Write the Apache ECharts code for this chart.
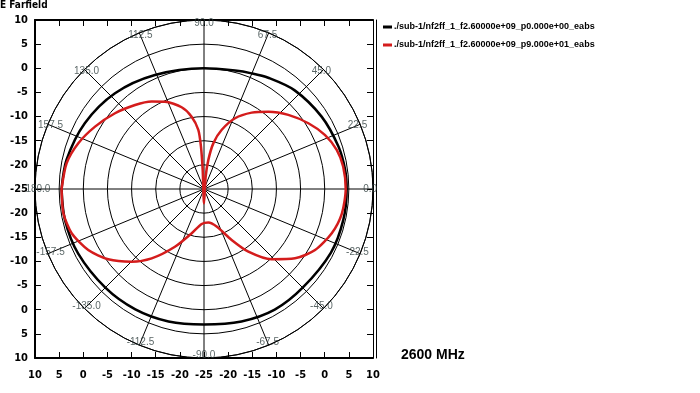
<!DOCTYPE html>
<html>
<head>
<meta charset="utf-8">
<script src="https://cdn.jsdelivr.net/npm/echarts@6/dist/echarts.min.js"></script>
<style>
html,body{margin:0;padding:0;background:#fff;}
#c{width:700px;height:393px;}
</style>
</head>
<body>
<div id="c"></div>
<script>
// ---- data ----
const seriesNames = [
  './sub-1/nf2ff_1_f2.60000e+09_p0.000e+00_eabs',
  './sub-1/nf2ff_1_f2.60000e+09_p9.000e+01_eabs'
];
// black trace (phi = 0): angle (deg), value (dB)
const blackAngles = [-180, -167.5, -152.9, -135, -119.7, -105, -90, -74.2, -59.6, -45, -26.7, -12.5, 0, 7.7, 17.5, 31.6, 47.4, 60, 67.6, 75.3, 90, 113.3, 132.9, 151.1, 168, 180];
const blackValues = [4.5, 4.5, 4.3, 3.9, 3.7, 3.4, 3.05, 3.5, 3.95, 3.9, 4.4, 4.55, 4.55, 4.5, 4.2, 3.6, 2.75, 1.6, 0.9, 0.35, 0.0, 0.7, 2.07, 3.2, 4.1, 4.5];
// red trace (phi = 90)
const redAngles = [-180, -170.2, -161.5, -152.2, -143.7, -134.9, -127, -116.7, -105.5, -93.8, -82.6, -71.4, -61.5, -54.7, -46.1, -37.3, -28.8, -19.1, -10.1, 0, 9.1, 16.4, 24, 32.2, 41.3, 50.2, 58, 66.3, 73.3, 78.4, 81.5, 82.3, 90, 94, 94.1, 95.5, 99.7, 105.3, 114.1, 120.9, 129.4, 139.6, 150.2, 160, 169.4, 180];
const redValues = [4.5, 4.55, 3.9, 2.1, -0.4, -3.75, -7.0, -11.6, -15.5, -17.75, -18.0, -16.8, -13.0, -9.1, -4.8, -1.3, 1.25, 3.0, 4.0, 4.35, 4.2, 3.65, 2.45, 0.55, -1.75, -4.15, -6.35, -9.0, -12.2, -15.3, -18.9, -22.4, -28, -21.1, -16.2, -12.7, -9.8, -7.45, -5.2, -3.9, -2.5, -0.8, 1.0, 2.7, 3.95, 4.5];
// angle tick labels
const angleLabelAngles = [90, 67.5, 45, 22.5, 0, -22.5, -45, -67.5, -90, -112.5, -135, -157.5, 180, 157.5, 135, 112.5];
const angleLabelTexts = ['90.0', '67.5', '45.0', '22.5', '0.0', '-22.5', '-45.0', '-67.5', '-90.0', '-112.5', '-135.0', '-157.5', '180.0', '157.5', '135.0', '112.5'];
// radial scale
const radiusMin = -25, radiusMax = 10, radiusStep = 5;
// box tick labels (both axes, from one edge through centre to the other)
const boxTickLabels = ['10', '5', '0', '-5', '-10', '-15', '-20', '-25', '-20', '-15', '-10', '-5', '0', '5', '10'];
const titleText = 'E Farfield';
const freqText = '2600 MHz';

// ---- chart ----
const chart = echarts.init(document.getElementById('c'), null, {renderer: 'canvas'});
const span = (radiusMax - radiusMin);
const boxFont = "'Liberation Sans Narrow','DejaVu Sans Condensed','Arial Narrow',sans-serif";
const plainFont = "'Liberation Sans', Arial, sans-serif";
function boxLabel(v) {
  const idx = Math.round((v + span) / radiusStep);
  return boxTickLabels[idx] !== undefined ? boxTickLabels[idx] : '';
}
const boxAxisCommon = {
  type: 'value', min: -span, max: span, interval: radiusStep,
  axisLine: {show: true, onZero: false, lineStyle: {color: '#000', width: 2}},
  axisTick: {show: true, inside: true, length: 6, lineStyle: {color: '#000', width: 1}},
  splitLine: {show: false}
};
const labelStyle = {show: true, formatter: boxLabel, color: '#000', fontFamily: boxFont, fontWeight: 'bold', fontSize: 11, showMinLabel: true, showMaxLabel: true};

const pair = (rs, as) => rs.map((r, i) => [r, as[i]]);

const option = {
  animation: false,
  backgroundColor: '#fff',
  title: [
    {text: titleText, left: 0, top: 0, padding: 0, textStyle: {fontFamily: boxFont, fontWeight: 'bold', fontSize: 10, color: '#000'}},
    {text: freqText, left: 396, top: 343, textStyle: {fontFamily: plainFont, fontWeight: 'bold', fontSize: 14, color: '#000'}}
  ],
  legend: {
    orient: 'vertical', left: 378, top: 17, itemGap: 8,
    itemWidth: 9, itemHeight: 3, icon: 'rect',
    textStyle: {fontFamily: plainFont, fontWeight: 'bold', fontSize: 9, lineHeight: 10, color: '#000', padding: [0, 0, 0, -3]},
    data: seriesNames
  },
  grid: {left: 35, top: 20, width: 338, height: 338, show: false},
  xAxis: [
    Object.assign({}, boxAxisCommon, {position: 'bottom', axisLabel: Object.assign({}, labelStyle, {margin: 12})}),
    Object.assign({}, boxAxisCommon, {position: 'top', axisLabel: {show: false}})
  ],
  yAxis: [
    Object.assign({}, boxAxisCommon, {position: 'left', axisLabel: Object.assign({}, labelStyle, {margin: 7})}),
    Object.assign({}, boxAxisCommon, {position: 'right', axisLabel: {show: false}, axisLine: {show: true, onZero: false, lineStyle: {color: '#000', width: 1}}}),
    Object.assign({}, boxAxisCommon, {position: 'right', offset: 3, axisLabel: {show: false}, axisTick: {show: false}, axisLine: {show: true, onZero: false, lineStyle: {color: '#000', width: 1}}})
  ],
  polar: {center: [204, 189], radius: 169},
  angleAxis: {
    type: 'value', min: -180, max: 180, interval: 22.5,
    startAngle: 180, clockwise: false,
    axisLine: {show: true, lineStyle: {color: '#000', width: 1}},
    axisTick: {show: false}, axisLabel: {show: false},
    splitLine: {show: true, lineStyle: {color: '#000', width: 1}}
  },
  radiusAxis: {
    type: 'value', min: radiusMin, max: radiusMax, interval: radiusStep,
    axisLine: {show: false}, axisTick: {show: false}, axisLabel: {show: false},
    splitLine: {show: true, lineStyle: {color: '#000', width: 1}}
  },
  series: [
    {
      name: seriesNames[0], type: 'line', coordinateSystem: 'polar',
      data: pair(blackValues, blackAngles), smooth: 0.3, showSymbol: false, symbol: 'none',
      lineStyle: {color: '#000', width: 2.5}, itemStyle: {color: '#000'}, z: 3
    },
    {
      name: seriesNames[1], type: 'line', coordinateSystem: 'polar',
      data: pair(redValues, redAngles), smooth: 0.25, showSymbol: false, symbol: 'none',
      lineStyle: {color: '#d41c1c', width: 2.5}, itemStyle: {color: '#d41c1c'}, z: 4
    },
    {
      type: 'scatter', coordinateSystem: 'polar', symbolSize: 0, silent: true, z: 5,
      data: angleLabelAngles.map((a, i) => ({value: [9.4, a], label: {formatter: angleLabelTexts[i]}})),
      label: {show: true, position: 'inside', color: '#2f3f3f', fontFamily: plainFont, fontSize: 10}
    }
  ]
};
chart.setOption(option);
</script>
</body>
</html>
